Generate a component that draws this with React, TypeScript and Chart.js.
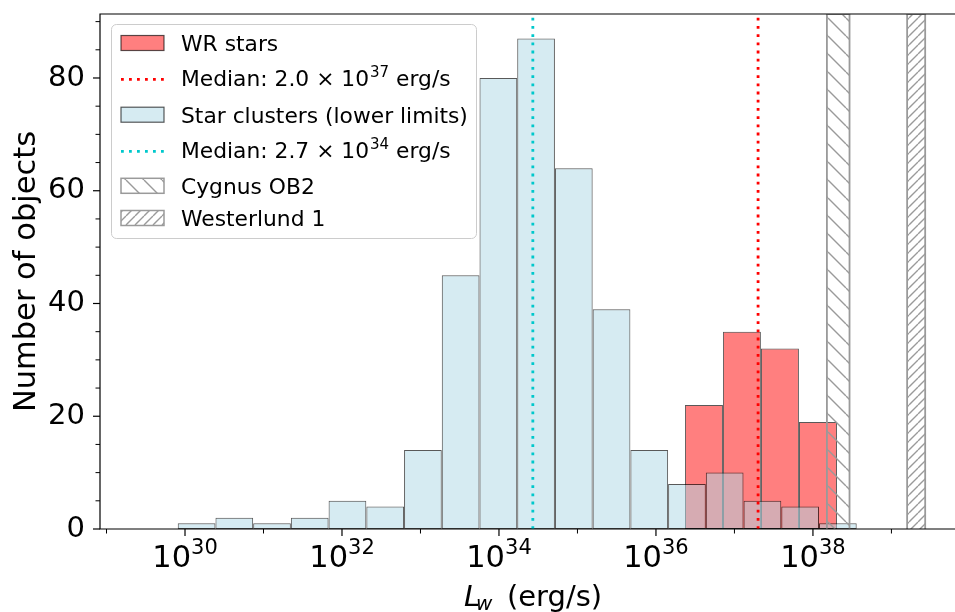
import React, { useEffect, useRef } from 'react';
import { Chart, registerables } from 'chart.js';

Chart.register(...registerables);

// ---- data (x values are log10 of L_w in erg/s) ----
const clusterBinEdges = [29.907, 30.388, 30.868, 31.349, 31.829, 32.31, 32.791, 33.271, 33.752, 34.232, 34.713, 35.194, 35.674, 36.155, 36.635, 37.116, 37.597, 38.077, 38.558];
const clusterCounts = [1, 2, 1, 2, 5, 4, 14, 45, 80, 87, 64, 39, 14, 8, 10, 5, 4, 1];
const wrBinEdges = [36.369, 36.853, 37.337, 37.822, 38.306];
const wrCounts = [22, 35, 32, 19];
const wrMedian = 2.0e37;
const clusterMedian = 2.7e34;
const cygnusOB2Range = [38.178, 38.466];
const westerlund1Range = [39.2, 39.43];
const xLimits = [28.917, 39.95];
const yLimits = [0, 91.35];
const xMajorExponents = [30, 32, 34, 36, 38];
const xMinorExponents = [29, 31, 33, 35, 37, 39];
const yMajorTicks = [0, 20, 40, 60, 80];
const yMinorTicks = [5, 10, 15, 25, 30, 35, 45, 50, 55, 65, 70, 75, 85, 90];
const legendTexts = ['WR stars', 'Median: 2.0 × 10', 'Star clusters (lower limits)', 'Median: 2.7 × 10', 'Cygnus OB2', 'Westerlund 1'];
const legendSups = ['', '37', '', '34', '', ''];
const legendTails = ['', ' erg/s', '', ' erg/s', '', ''];
const xTitleMain = 'L';
const xTitleSub = 'w';
const xTitleTail = '(erg/s)';
const yTitle = 'Number of objects';

const RED_FILL = 'rgba(255,0,0,0.5)';
const BLUE_FILL = 'rgba(173,216,230,0.5)';
const EDGE = 'rgba(0,0,0,0.65)';
const HATCH = '#9a9a9a';
const CYAN = '#00c8cc';
const FONT = "'DejaVu Sans'";

function makeHatch(ctx: CanvasRenderingContext2D, s: number, dir: 'back' | 'fwd') {
  const c = document.createElement('canvas');
  c.width = s;
  c.height = s;
  const g = c.getContext('2d')!;
  g.strokeStyle = HATCH;
  g.lineWidth = 1.4;
  g.beginPath();
  for (const k of [-1, 0, 1]) {
    if (dir === 'back') {
      g.moveTo(k * s, 0);
      g.lineTo(k * s + s, s);
    } else {
      g.moveTo(k * s, s);
      g.lineTo(k * s + s, 0);
    }
  }
  g.stroke();
  return ctx.createPattern(c, 'repeat')!;
}

function centers(edges: number[], counts: number[]) {
  return counts.map((c, i) => ({ x: (edges[i] + edges[i + 1]) / 2, y: c }));
}

export default function App() {
  const ref = useRef<HTMLCanvasElement | null>(null);

  useEffect(() => {
    const canvas = ref.current!;
    const ctx0 = canvas.getContext('2d')!;
    const hatchBack = makeHatch(ctx0, 18, 'back');
    const hatchFwd = makeHatch(ctx0, 9, 'fwd');
    const ymax = yLimits[1];

    const overlay = {
      id: 'overlay',
      afterDraw(chart: any) {
        const ctx: CanvasRenderingContext2D = chart.ctx;
        const ca = chart.chartArea;
        const xs = chart.scales.x;
        const ys = chart.scales.y;
        ctx.save();
        // spines
        ctx.strokeStyle = '#000';
        ctx.lineWidth = 1.2;
        ctx.beginPath();
        ctx.moveTo(ca.left, ca.top);
        ctx.lineTo(ca.left, ca.bottom);
        ctx.lineTo(ca.right, ca.bottom);
        ctx.lineTo(ca.right, ca.top);
        ctx.closePath();
        ctx.stroke();
        // x ticks
        for (const e of xMajorExponents) {
          const px = xs.getPixelForValue(e);
          ctx.lineWidth = 1.2;
          ctx.beginPath();
          ctx.moveTo(px, ca.bottom);
          ctx.lineTo(px, ca.bottom + 7);
          ctx.stroke();
        }
        for (const e of xMinorExponents) {
          const px = xs.getPixelForValue(e);
          ctx.lineWidth = 1;
          ctx.beginPath();
          ctx.moveTo(px, ca.bottom);
          ctx.lineTo(px, ca.bottom + 4.5);
          ctx.stroke();
        }
        // y ticks
        for (const v of yMajorTicks) {
          const py = ys.getPixelForValue(v);
          ctx.lineWidth = 1.2;
          ctx.beginPath();
          ctx.moveTo(ca.left - 7, py);
          ctx.lineTo(ca.left, py);
          ctx.stroke();
        }
        for (const v of yMinorTicks) {
          const py = ys.getPixelForValue(v);
          ctx.lineWidth = 1;
          ctx.beginPath();
          ctx.moveTo(ca.left - 4.5, py);
          ctx.lineTo(ca.left, py);
          ctx.stroke();
        }
        // x tick labels 10^n
        ctx.fillStyle = '#000';
        ctx.textBaseline = 'alphabetic';
        ctx.textAlign = 'left';
        for (const e of xMajorExponents) {
          const px = xs.getPixelForValue(e);
          ctx.font = `30.5px ${FONT}`;
          const w1 = ctx.measureText('10').width;
          ctx.font = `21px ${FONT}`;
          const w2 = ctx.measureText(String(e)).width;
          const start = px - (w1 + w2) / 2;
          ctx.font = `30.5px ${FONT}`;
          ctx.fillText('10', start, 566.5);
          ctx.font = `21px ${FONT}`;
          ctx.fillText(String(e), start + w1, 554);
        }
        // x title
        ctx.font = `29px ${FONT}`;
        const tailW = ctx.measureText(xTitleTail).width;
        const total = 43 + tailW;
        const x0 = (ca.left + ca.right) / 2 - total / 2;
        ctx.font = `italic 29px ${FONT}`;
        ctx.fillText(xTitleMain, x0, 606);
        ctx.font = `italic 20px ${FONT}`;
        ctx.fillText(xTitleSub, x0 + 12, 610);
        ctx.font = `29px ${FONT}`;
        ctx.fillText(xTitleTail, x0 + 43, 606);
        // y title
        ctx.save();
        ctx.translate(35, (ca.top + ca.bottom) / 2);
        ctx.rotate(-Math.PI / 2);
        ctx.textAlign = 'center';
        ctx.font = `30.5px ${FONT}`;
        ctx.fillText(yTitle, 0, 0);
        ctx.restore();

        // legend
        ctx.beginPath();
        ctx.roundRect(111.5, 24.5, 365, 214, 5);
        ctx.fillStyle = 'rgba(255,255,255,0.8)';
        ctx.fill();
        ctx.strokeStyle = '#cccccc';
        ctx.lineWidth = 1;
        ctx.stroke();
        const handleCenters = [43, 79.3, 114.7, 151.3, 185.8, 218];
        const baselines = [50.5, 86, 122.5, 158, 193.5, 225.5];
        const hx0 = 121, hw = 43, hh = 15;
        const kinds = ['redpatch', 'reddots', 'bluepatch', 'cyandots', 'hatchback', 'hatchfwd'];
        kinds.forEach((k, i) => {
          const cy = handleCenters[i];
          if (k === 'redpatch' || k === 'bluepatch') {
            ctx.fillStyle = k === 'redpatch' ? RED_FILL : BLUE_FILL;
            ctx.fillRect(hx0, cy - hh / 2, hw, hh);
            ctx.strokeStyle = EDGE;
            ctx.lineWidth = 1.2;
            ctx.strokeRect(hx0, cy - hh / 2, hw, hh);
          } else if (k === 'reddots' || k === 'cyandots') {
            ctx.save();
            ctx.strokeStyle = k === 'reddots' ? 'red' : CYAN;
            ctx.lineWidth = 2.8;
            ctx.setLineDash([2.8, 5.2]);
            ctx.lineCap = 'butt';
            ctx.beginPath();
            ctx.moveTo(hx0, cy);
            ctx.lineTo(hx0 + hw, cy);
            ctx.stroke();
            ctx.restore();
          } else {
            ctx.fillStyle = k === 'hatchback' ? hatchBack : hatchFwd;
            ctx.fillRect(hx0, cy - hh / 2, hw, hh);
            ctx.strokeStyle = HATCH;
            ctx.lineWidth = 1.5;
            ctx.strokeRect(hx0, cy - hh / 2, hw, hh);
          }
          ctx.fillStyle = '#000';
          ctx.font = `21.8px ${FONT}`;
          let tx = 181;
          ctx.fillText(legendTexts[i], tx, baselines[i]);
          tx += ctx.measureText(legendTexts[i]).width;
          if (legendSups[i]) {
            ctx.font = `15px ${FONT}`;
            ctx.fillText(legendSups[i], tx + 1, baselines[i] - 9);
            tx += ctx.measureText(legendSups[i]).width + 1;
            ctx.font = `21.8px ${FONT}`;
            ctx.fillText(legendTails[i], tx, baselines[i]);
          }
        });
        ctx.restore();
      },
    };

    const spanData = (r: number[]) => [
      { x: r[0], y: 0 },
      { x: r[0], y: ymax },
      { x: r[1], y: ymax },
      { x: r[1], y: 0 },
    ];
    const vline = (v: number) => [
      { x: v, y: 0 },
      { x: v, y: ymax },
    ];

    const chart = new Chart(canvas, {
      type: 'bar',
      data: {
        datasets: [
          {
            type: 'line',
            label: 'Median WR',
            data: vline(Math.log10(wrMedian)),
            xAxisID: 'x',
            borderColor: 'red',
            borderWidth: 2.8,
            borderDash: [2.8, 5.4],
            borderCapStyle: 'butt',
            pointRadius: 0,
            fill: false,
            order: 0,
          } as any,
          {
            type: 'line',
            label: 'Median clusters',
            data: vline(Math.log10(clusterMedian)),
            xAxisID: 'x',
            borderColor: CYAN,
            borderWidth: 2.8,
            borderDash: [2.8, 5.4],
            borderCapStyle: 'butt',
            pointRadius: 0,
            fill: false,
            order: 1,
          } as any,
          {
            type: 'line',
            label: 'Westerlund 1',
            data: spanData(westerlund1Range),
            xAxisID: 'x',
            borderColor: HATCH,
            borderWidth: 1.8,
            backgroundColor: hatchFwd,
            fill: 'origin',
            pointRadius: 0,
            tension: 0,
            order: 2,
          } as any,
          {
            type: 'line',
            label: 'Cygnus OB2',
            data: spanData(cygnusOB2Range),
            xAxisID: 'x',
            borderColor: HATCH,
            borderWidth: 1.8,
            backgroundColor: hatchBack,
            fill: 'origin',
            pointRadius: 0,
            tension: 0,
            order: 3,
          } as any,
          {
            type: 'bar',
            label: 'Star clusters (lower limits)',
            data: centers(clusterBinEdges, clusterCounts),
            xAxisID: 'x',
            backgroundColor: BLUE_FILL,
            borderColor: EDGE,
            borderWidth: 1,
            borderSkipped: false,
            grouped: false,
            barPercentage: 1,
            categoryPercentage: 1,
            inflateAmount: 0,
            order: 4,
          } as any,
          {
            type: 'bar',
            label: 'WR stars',
            data: centers(wrBinEdges, wrCounts),
            xAxisID: 'x2',
            backgroundColor: RED_FILL,
            borderColor: EDGE,
            borderWidth: 1,
            borderSkipped: false,
            grouped: false,
            barPercentage: 1,
            categoryPercentage: 1,
            inflateAmount: 0,
            order: 5,
          } as any,
        ],
      },
      options: {
        responsive: false,
        animation: false,
        devicePixelRatio: 1,
        events: [],
        layout: { padding: { left: 0, top: 14, right: 14, bottom: 0 } },
        plugins: { legend: { display: false }, tooltip: { enabled: false } },
        scales: {
          x: {
            type: 'linear',
            min: xLimits[0],
            max: xLimits[1],
            offset: false,
            grid: { display: false, drawTicks: false },
            border: { display: false },
            ticks: { display: false, stepSize: 1, includeBounds: false },
            afterFit: (s: any) => {
              s.height = 83;
              s.paddingLeft = 0;
              s.paddingRight = 0;
            },
          },
          x2: {
            type: 'linear',
            axis: 'x',
            position: 'bottom',
            display: false,
            min: xLimits[0],
            max: xLimits[1],
            offset: false,
            grid: { display: false },
            ticks: { stepSize: 1, includeBounds: false },
          },
          y: {
            type: 'linear',
            min: yLimits[0],
            max: yLimits[1],
            grid: { display: false, drawTicks: false },
            border: { display: false },
            ticks: {
              stepSize: 20,
              includeBounds: false,
              color: '#000',
              padding: 15,
              font: { family: 'DejaVu Sans', size: 29 },
            },
            afterFit: (s: any) => {
              s.width = 100;
              s.paddingTop = 0;
              s.paddingBottom = 0;
            },
          },
        } as any,
      },
      plugins: [overlay],
    });
    return () => chart.destroy();
  }, []);

  return (
    <div style={{ position: 'fixed', left: 0, top: 0, width: 955, height: 612, overflow: 'hidden', background: '#fff' }}>
      <canvas ref={ref} width={980} height={612} style={{ display: 'block', width: 980, height: 612 }} />
    </div>
  );
}
